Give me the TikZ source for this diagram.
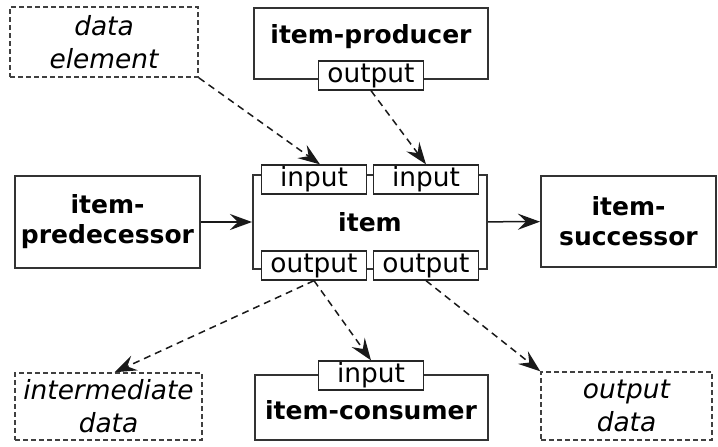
\documentclass[tikz,border=0pt]{standalone}
\usepackage{fontspec}
\setmainfont{DejaVu Sans}
\usepackage{tikz}
\usetikzlibrary{arrows.meta,positioning}
\newcommand{\titlefont}{\bfseries\fontsize{12.5}{15}\selectfont}
\newcommand{\portfont}{\fontsize{13.2}{15}\selectfont}
\newcommand{\datafont}{\itshape\fontsize{13.2}{16.5}\selectfont}

\begin{document}
\begin{tikzpicture}[x=0.5pt,y=-0.5pt,
  unit/.style={draw=black!80,line width=1pt,align=center,inner sep=0pt,font=\titlefont},
  port/.style={draw=black!85,line width=0.65pt,fill=white,minimum width=52.5pt,minimum height=14.5pt,inner sep=0pt,font=\portfont},
  datum/.style={draw=black!75,line width=0.75pt,dash pattern=on 2.5pt off 1.5pt,align=center,inner sep=0pt,font=\datafont},
  flow/.style={-{Stealth[length=11pt,width=8pt,inset=4pt]},line width=0.75pt,black!90},
  feed/.style={flow,dash pattern=on 3.5pt off 2.5pt}]
  \useasboundingbox (0,0) rectangle (718,446);
  % processing units
  \node[unit,minimum width=92.5pt,minimum height=46pt] (pred) at (107.5,222) {item-\\predecessor};
  \node[unit,minimum width=117pt,minimum height=47pt] (item) at (370,222) {item};
  \node[unit,minimum width=87.5pt,minimum height=45.5pt] (succ) at (628.5,221.5) {item-\\successor};
  \node[unit,minimum width=117pt,minimum height=35.5pt,
        label={[font=\titlefont,yshift=3.5pt]center:item-producer}] (prod) at (371,43.5) {};
  \node[unit,minimum width=116.5pt,minimum height=32.5pt,
        label={[font=\titlefont,yshift=-1.25pt]center:item-consumer}] (cons) at (371,407.5) {};
  % ports sitting on the unit borders
  \node[port] (prodout) at (371,75.5) {output};
  \node[port] (in1) at (314,179.5) {input};
  \node[port] (in2) at (426,179.5) {input};
  \node[port] (out1) at (314,265.5) {output};
  \node[port] (out2) at (426,265.5) {output};
  \node[port] (conin) at (371,375.5) {input};
  % data
  \node[datum,minimum width=94pt,minimum height=35pt] (delem) at (104,42) {data\\element};
  \node[datum,minimum width=93.5pt,minimum height=33.5pt] (inter) at (108.5,406.5) {intermediate\\data};
  \node[datum,minimum width=85.5pt,minimum height=34pt] (odata) at (626.5,406) {output\\data};
  % control flow
  \draw[flow] (pred) -- (item);
  \draw[flow] (item) -- (succ);
  % data flow
  \draw[feed] (delem.south east) -- ([xshift=3pt]in1.north);
  \draw[feed] (prodout.south) -- (in2.north);
  \draw[feed] (out1.south) -- ([xshift=3pt]inter.north);
  \draw[feed] (out1.south) -- (conin.north);
  \draw[feed] (out2.south) -- (odata.north west);
\end{tikzpicture}
\end{document}
